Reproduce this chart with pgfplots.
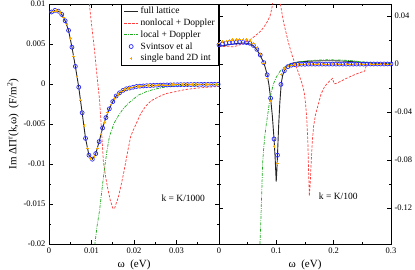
\documentclass[border=0pt]{standalone}
\usepackage{fontspec}
\setmainfont{Liberation Serif}
\usepackage{pgfplots}
\pgfplotsset{compat=1.18}
\usepackage{pgfplotstable}
\definecolor{myred}{RGB}{255,60,60}
\definecolor{mygreen}{RGB}{30,170,30}
\definecolor{myblue}{RGB}{40,40,255}
\definecolor{myorange}{RGB}{255,165,0}

\pgfplotstableread{
x y
0.0003 0.0089
0.0006 0.0090
0.0014 0.0092
0.0022 0.0091
0.0030 0.0087
0.0038 0.0079
0.0046 0.0067
0.0054 0.0046
0.0062 0.0022
0.0070 -0.0004
0.0078 -0.0036
0.0086 -0.0068
0.0094 -0.0089
0.0102 -0.0094
0.0110 -0.0087
0.0118 -0.0072
0.0126 -0.0055
0.0134 -0.0042
0.0142 -0.0031
0.0150 -0.0022
0.0158 -0.0015
0.0166 -0.0011
0.0174 -0.0008
0.0182 -0.0006
0.0190 -0.0005
0.0198 -0.0004
0.0206 -0.00031
0.0214 -0.00027
0.0222 -0.00024
0.0230 -0.00021
0.0238 -0.00019
0.0246 -0.00017
0.0254 -0.00015
0.0262 -0.00014
0.0270 -0.00013
0.0278 -0.00012
0.0286 -0.00011
0.0294 -0.00010
0.0302 -0.00009
0.0310 -0.00008
0.0318 -0.00008
0.0326 -0.00007
0.0334 -0.00007
0.0342 -0.00006
0.0350 -0.00006
0.0358 -0.00005
0.0366 -0.00005
0.0374 -0.00005
0.0382 -0.00004
0.0390 -0.00004
0.0398 -0.00004
}\leftfull

\pgfplotstableread{
x y
0.0006 0.0090
0.0014 0.0092
0.0022 0.0091
0.0030 0.0087
0.0038 0.0079
0.0046 0.0067
0.0054 0.0046
0.0062 0.0022
0.0070 -0.0004
0.0078 -0.0036
0.0086 -0.0068
0.0094 -0.0089
0.0102 -0.0094
0.0110 -0.0087
0.0118 -0.0072
0.0126 -0.0055
0.0134 -0.0042
0.0142 -0.0031
0.0150 -0.0022
0.0158 -0.0015
0.0166 -0.0011
0.0174 -0.0008
0.0182 -0.0006
0.0190 -0.0005
0.0198 -0.0004
0.0206 -0.00031
0.0214 -0.00027
0.0222 -0.00024
0.0230 -0.00021
0.0238 -0.00019
0.0246 -0.00017
0.0254 -0.00015
0.0262 -0.00014
0.0270 -0.00013
0.0278 -0.00012
0.0286 -0.00011
0.0294 -0.00010
0.0302 -0.00009
0.0310 -0.00008
0.0318 -0.00008
0.0326 -0.00007
0.0334 -0.00007
0.0342 -0.00006
0.0350 -0.00006
0.0358 -0.00005
0.0366 -0.00005
0.0374 -0.00005
0.0382 -0.00004
0.0390 -0.00004
0.0398 -0.00004
}\leftsv

\pgfplotstableread{
x y
0.0010 0.0091
0.0018 0.0092
0.0026 0.0089
0.0034 0.0083
0.0042 0.0074
0.0050 0.0057
0.0058 0.0035
0.0066 0.0009
0.0074 -0.0020
0.0082 -0.0052
0.0090 -0.0080
0.0098 -0.0093
0.0106 -0.0091
0.0114 -0.0080
0.0122 -0.0063
0.0130 -0.0048
0.0138 -0.0036
0.0146 -0.0026
0.0154 -0.0018
0.0162 -0.0013
0.0170 -0.0009
0.0178 -0.0007
0.0186 -0.00055
0.0194 -0.00045
0.0202 -0.00035
0.0210 -0.0003
0.0218 -0.00025
0.0226 -0.00022
0.0234 -0.00020
0.0242 -0.00018
0.0250 -0.00016
0.0258 -0.00015
0.0266 -0.00013
0.0274 -0.00012
0.0282 -0.00011
0.0290 -0.00010
0.0298 -0.00009
0.0306 -0.00009
0.0314 -0.00008
0.0322 -0.00007
0.0330 -0.00007
0.0338 -0.00006
0.0346 -0.00006
0.0354 -0.00005
0.0362 -0.00005
0.0370 -0.00005
0.0378 -0.00004
0.0386 -0.00004
0.0394 -0.00004
}\leftsb

\pgfplotstableread{
x y
0.0088 0.0200
0.0094 0.0105
0.0100 0.0075
0.0107 0.0043
0.0113 0.0010
0.0119 -0.0020
0.0124 -0.0062
0.0128 -0.0097
0.0133 -0.0115
0.0138 -0.0130
0.0144 -0.0145
0.0150 -0.0155
0.0154 -0.0156
0.0157 -0.0151
0.0163 -0.0142
0.0169 -0.0128
0.0175 -0.0113
0.0180 -0.0099
0.0186 -0.0082
0.0192 -0.0066
0.0198 -0.0058
0.0204 -0.0051
0.0215 -0.0038
0.0227 -0.0028
0.0240 -0.0021
0.0258 -0.0016
0.0275 -0.0012
0.0297 -0.00096
0.0320 -0.0007
0.0350 -0.0005
0.0400 -0.0003
}\leftnl

\pgfplotstableread{
x y
0.0103 -0.0240
0.0108 -0.0200
0.0113 -0.0178
0.0119 -0.0158
0.0125 -0.0130
0.0130 -0.0108
0.0136 -0.0085
0.0142 -0.0066
0.0148 -0.0057
0.0153 -0.0049
0.0163 -0.0040
0.0173 -0.0032
0.0185 -0.0025
0.0196 -0.0020
0.0210 -0.0014
0.0227 -0.0010
0.0245 -0.0007
0.0258 -0.00054
0.0280 -0.0003
0.0310 -0.00018
0.0350 -0.0001
0.0400 -0.00005
}\leftlo

\pgfplotstableread{
x y
0.000 0.0145
0.010 0.0155
0.020 0.0163
0.030 0.0170
0.040 0.0174
0.048 0.0173
0.055 0.0166
0.060 0.0152
0.066 0.0120
0.072 0.0070
0.078 0.0012
0.081 -0.0035
0.084 -0.0090
0.087 -0.0170
0.090 -0.0285
0.093 -0.0430
0.096 -0.0625
0.098 -0.0790
0.0998 -0.0980
0.101 -0.0880
0.102 -0.0760
0.104 -0.0520
0.106 -0.0330
0.1086 -0.0160
0.111 -0.0095
0.114 -0.0056
0.117 -0.0030
0.120 -0.0015
0.125 0.0000
0.130 0.0010
0.140 0.0018
0.160 0.0024
0.180 0.0027
0.200 0.0027
0.220 0.0024
0.240 0.0017
0.260 0.0010
0.280 0.0005
0.300 0.0002
}\rightfull

\pgfplotstableread{
x y
0.000 0.0160
0.006 0.0168
0.012 0.0173
0.018 0.0177
0.024 0.0179
0.030 0.0180
0.036 0.0181
0.042 0.0180
0.048 0.0178
0.054 0.0172
0.060 0.0155
0.066 0.0122
0.072 0.0075
0.078 0.0012
0.084 -0.0090
0.090 -0.0285
0.096 -0.0625
0.102 -0.0760
0.108 -0.0170
0.114 -0.0056
0.120 -0.0022
0.126 -0.0010
0.132 -0.0005
0.138 -0.0003
0.144 -0.0002
0.150 -0.0002
0.156 -0.0001
0.162 -0.0001
0.168 -0.0001
0.174 -0.0001
0.180 -0.0001
0.186 -0.0001
0.192 -0.0001
0.198 -0.0001
0.204 -0.0001
0.210 -0.0001
0.216 -0.0001
0.222 -0.0001
0.228 -0.0001
0.234 -0.0001
0.240 -0.0001
0.246 -0.0001
0.252 -0.0001
0.258 0.0000
0.264 0.0000
0.270 0.0000
0.276 0.0000
0.282 0.0000
0.288 0.0000
0.294 0.0000
0.300 0.0000
}\rightsv

\pgfplotstableread{
x y
0.000 0.0175
0.006 0.0185
0.012 0.0193
0.018 0.0199
0.024 0.0203
0.030 0.0205
0.036 0.0206
0.042 0.0205
0.048 0.0202
0.054 0.0194
0.060 0.0176
0.066 0.0135
0.072 0.0082
0.078 0.0008
0.084 -0.0120
0.090 -0.0310
0.096 -0.0690
0.102 -0.0830
0.108 -0.0090
0.114 -0.0040
0.120 -0.0018
0.126 -0.0009
0.132 -0.0004
0.138 -0.0002
0.144 -0.0001
0.150 -0.0001
0.156 -0.0001
0.162 0.0000
0.168 0.0000
0.174 0.0000
0.180 0.0000
0.186 0.0000
0.192 0.0000
0.198 0.0000
0.204 0.0000
0.210 0.0000
0.216 0.0000
0.222 0.0000
0.228 0.0000
0.234 0.0000
0.240 0.0000
0.246 0.0000
0.252 0.0000
0.258 0.0000
0.264 0.0000
0.270 0.0000
0.276 0.0000
0.282 0.0000
0.288 0.0000
0.294 0.0000
0.300 0.0000
}\rightsb

\pgfplotstableread{
x y
0.000 0.0150
0.010 0.0145
0.026 0.0144
0.040 0.0165
0.047 0.0186
0.055 0.0205
0.062 0.0230
0.068 0.0255
0.073 0.0275
0.080 0.0320
0.085 0.0360
0.089 0.0400
0.092 0.0460
0.094 0.0520
0.096 0.0600
0.097 0.0800
0.103 0.0800
0.105 0.0600
0.107 0.0500
0.110 0.0420
0.113 0.0340
0.117 0.0260
0.121 0.0180
0.127 0.0080
0.132 0.0010
0.137 -0.0050
0.141 -0.0110
0.146 -0.0180
0.149 -0.0250
0.151 -0.0330
0.153 -0.0450
0.155 -0.0650
0.156 -0.0850
0.157 -0.1000
0.1575 -0.1100
0.159 -0.1000
0.161 -0.0800
0.163 -0.0630
0.165 -0.0520
0.168 -0.0430
0.173 -0.0340
0.178 -0.0250
0.184 -0.0190
0.191 -0.0150
0.198 -0.0120
0.201 -0.0165
0.205 -0.0160
0.212 -0.0145
0.222 -0.0120
0.235 -0.0092
0.248 -0.0068
0.254 -0.0060
0.257 -0.0010
0.262 0.0000
0.300 0.0000
}\rightnl

\pgfplotstableread{
x y
0.0715 -0.1500
0.073 -0.1300
0.075 -0.1000
0.076 -0.0830
0.078 -0.0700
0.080 -0.0600
0.082 -0.0520
0.085 -0.0420
0.088 -0.0320
0.091 -0.0240
0.095 -0.0165
0.100 -0.0110
0.105 -0.0070
0.111 -0.0036
0.118 -0.0015
0.125 -0.0002
0.135 0.0012
0.150 0.0025
0.170 0.0032
0.190 0.0035
0.210 0.0034
0.230 0.0028
0.250 0.0018
0.270 0.0008
0.300 0.0003
}\rightlo

\begin{document}
\begin{tikzpicture}
\path[use as bounding box] (-49pt,-26pt) rectangle (366pt,244pt);
\pgfplotsset{
  every axis/.append style={
    scale only axis,
    axis line style={line width=0.8pt},
    every tick/.style={black, line width=0.6pt},
    major tick length=4pt, minor tick length=2pt,
    tick align=inside,
    /pgf/number format/assume math mode=true,
    tick label style={font=\fontsize{8.5}{10}\selectfont},
    label style={font=\fontsize{11}{13}\selectfont},
    scaled x ticks=false, scaled y ticks=false,
    clip=true,
  },
  fullst/.style={black!85, line width=0.9pt, no marks},
  nlst/.style={myred, line width=0.7pt, dash pattern=on 2.5pt off 1.5pt, no marks},
  lost/.style={mygreen, line width=0.7pt, dash pattern=on 3pt off 1.2pt on 0.8pt off 1.2pt, no marks},
  svst/.style={only marks, mark=o, mark size=2pt, mark options={myblue, line width=0.7pt}},
  sbst/.style={only marks, mark=+, mark size=1.3pt, mark options={myorange, line width=0.6pt}},
}
\begin{axis}[
  at={(0pt,0pt)}, anchor=south west,
  width=170pt, height=240pt,
  xmin=0, xmax=0.04, ymin=-0.02, ymax=0.01,
  xtick={0,0.01,0.02,0.03}, minor xtick={0.005,0.015,0.025,0.035},
  ytick={-0.02,-0.015,-0.01,-0.005,0,0.005,0.01}, minor tick num=1,
  xticklabel style={/pgf/number format/fixed, /pgf/number format/precision=2},
  yticklabel style={/pgf/number format/fixed, /pgf/number format/precision=3},
  xlabel={ω\ \ (eV)},
  ylabel={Im ΔΠ\textsuperscript{r}(k,ω)\ \ (F/m\textsuperscript{2})},
  ylabel style={yshift=-2pt},
  legend style={at={(1,1)}, anchor=north east, draw=black, line width=0.6pt,
    font=\fontsize{9.5}{11}\selectfont, cells={anchor=west}, row sep=-0.4pt,
    inner xsep=2pt, inner ysep=1pt},
  legend image code/.code={\draw[mark repeat=2,mark phase=2,#1] plot coordinates {(0cm,0cm) (0.25cm,0cm) (0.5cm,0cm)};},
]
\addplot[fullst] table {\leftfull};
\addlegendentry{full lattice}
\addplot[nlst] table {\leftnl};
\addlegendentry{nonlocal + Doppler}
\addplot[lost] table {\leftlo};
\addlegendentry{local + Doppler}
\addplot[svst] table {\leftsv};
\addlegendentry{Svintsov et al}
\addplot[sbst] table {\leftsb};
\addlegendentry{single band 2D int}
\node[font=\fontsize{9.5}{11}\selectfont] at (axis cs:0.0316,-0.0143) {k = K/1000};
\end{axis}
\begin{axis}[
  at={(170pt,0pt)}, anchor=south west,
  width=172pt, height=240pt,
  xmin=0, xmax=0.3, ymin=-0.15, ymax=0.05,
  xtick={0,0.1,0.2,0.3}, minor xtick={0.05,0.15,0.25},
  ytick={-0.12,-0.08,-0.04,0,0.04}, minor tick num=1,
  yticklabel pos=right,
  xticklabel style={/pgf/number format/fixed, /pgf/number format/precision=1},
  yticklabel style={/pgf/number format/fixed, /pgf/number format/precision=2},
  xlabel={ω\ \ (eV)},
]
\addplot[fullst] table {\rightfull};
\addplot[nlst] table {\rightnl};
\addplot[lost] table {\rightlo};
\addplot[svst] table {\rightsv};
\addplot[sbst] table {\rightsb};
\node[font=\fontsize{9.5}{11}\selectfont] at (axis cs:0.208,-0.11) {k = K/100};
\end{axis}
\end{tikzpicture}
\end{document}
